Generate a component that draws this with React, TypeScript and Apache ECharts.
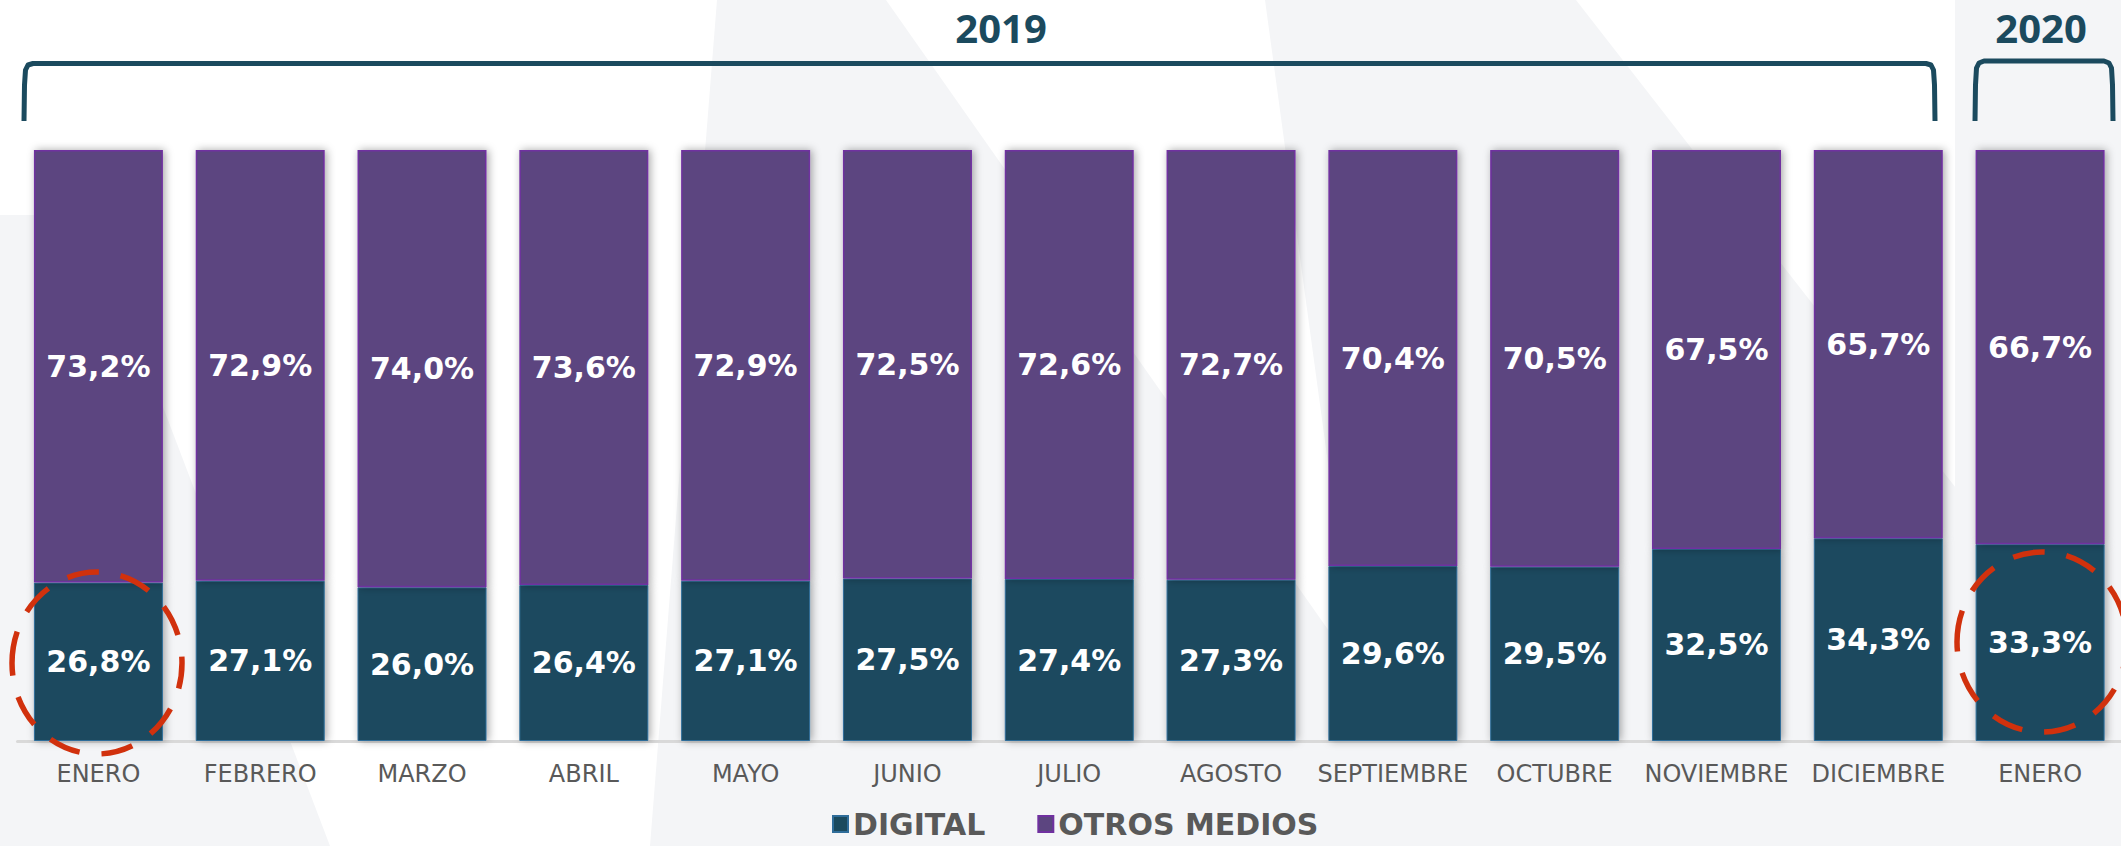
import React, { useEffect, useRef } from "react";
import * as echarts from "echarts";

const categories = [
  "ENERO", "FEBRERO", "MARZO", "ABRIL", "MAYO", "JUNIO", "JULIO",
  "AGOSTO", "SEPTIEMBRE", "OCTUBRE", "NOVIEMBRE", "DICIEMBRE", "ENERO",
];
const digital = [26.8, 27.1, 26.0, 26.4, 27.1, 27.5, 27.4, 27.3, 29.6, 29.5, 32.5, 34.3, 33.3];
const otros = [73.2, 72.9, 74.0, 73.6, 72.9, 72.5, 72.6, 72.7, 70.4, 70.5, 67.5, 65.7, 66.7];
const seriesNames = ["DIGITAL", "OTROS MEDIOS"];
const yearLabels = ["2019", "2020"];

const fmt = (p: any) => Number(p.value).toFixed(1).replace(".", ",") + "%";

export default function App() {
  const ref = useRef<HTMLDivElement>(null);
  useEffect(() => {
    document.body.style.margin = "0";
    const chart = echarts.init(ref.current!, null, { renderer: "svg" });
    const bg = "#f4f5f7";
    const teal = "#1b4a5e";
    const red = "#d1310d";
    const labelStyle = {
      show: true,
      position: "inside",
      formatter: fmt,
      color: "#ffffff",
      fontSize: 30,
      fontWeight: "bold",
      fontFamily: "DejaVu Sans",
    };
    const shadow = {
      shadowColor: "rgba(0,0,0,0.35)",
      shadowBlur: 8,
      shadowOffsetX: 2,
      shadowOffsetY: 0,
    };
    chart.setOption({
      animation: false,
      backgroundColor: "#ffffff",
      grid: { left: 17.5, width: 2106, top: 150, height: 591 },
      xAxis: {
        type: "category",
        data: categories,
        axisLine: { lineStyle: { color: "#d9d9d9", width: 3 } },
        axisTick: { show: false },
        axisLabel: {
          color: "#595959",
          fontSize: 24,
          fontFamily: "DejaVu Sans",
          margin: 21,
          interval: 0,
        },
      },
      yAxis: { type: "value", min: 0, max: 100, show: false },
      legend: {
        data: seriesNames,
        left: 832,
        top: 808,
        padding: 0,
        icon: "rect",
        itemWidth: 15,
        itemHeight: 16,
        itemGap: 52,
        textStyle: {
          fontSize: 30,
          lineHeight: 32,
          fontWeight: "bold",
          color: "#595959",
          fontFamily: "DejaVu Sans",
        },
      },
      series: [
        {
          name: seriesNames[0],
          type: "bar",
          stack: "total",
          barWidth: 129,
          data: digital,
          itemStyle: { color: teal, borderColor: "#2f6d9a", borderWidth: 1, ...shadow },
          label: labelStyle,
        },
        {
          name: seriesNames[1],
          type: "bar",
          stack: "total",
          barWidth: 129,
          data: otros,
          itemStyle: { color: "#5c4580", borderColor: "#7030a0", borderWidth: 1.5, ...shadow },
          label: labelStyle,
        },
      ],
      graphic: [
        { type: "polygon", z: -10, silent: true, shape: { points: [[717, 0], [886, 0], [1480, 846], [650, 846]] }, style: { fill: bg } },
        { type: "polygon", z: -10, silent: true, shape: { points: [[1265, 0], [1576, 0], [2121, 700], [2121, 846], [1380, 846]] }, style: { fill: bg } },
        { type: "polygon", z: -10, silent: true, shape: { points: [[1955, 0], [2121, 0], [2121, 846], [1955, 846]] }, style: { fill: bg } },
        { type: "polygon", z: -10, silent: true, shape: { points: [[0, 215], [90, 215], [330, 846], [0, 846]] }, style: { fill: bg } },
        {
          type: "polyline",
          z: 100,
          shape: {
            points: [[24, 121], [24.5, 85], [25.5, 70], [28, 65], [33, 63.5], [1926, 63.5], [1931, 65], [1933.5, 70], [1934.5, 85], [1935, 121]],
          },
          style: { stroke: teal, lineWidth: 5, fill: "none", lineJoin: "round" },
        },
        {
          type: "polyline",
          z: 100,
          shape: {
            points: [[1975, 121], [1975.5, 85], [1976.5, 68], [1979, 63], [1984, 61], [2104, 61], [2109, 63], [2111.5, 68], [2112.5, 85], [2113, 121]],
          },
          style: { stroke: teal, lineWidth: 5, fill: "none", lineJoin: "round" },
        },
        {
          type: "text",
          z: 100,
          x: 1001,
          y: 27,
          style: {
            text: yearLabels[0],
            fill: teal,
            font: "bold 40px 'Open Sans'",
            textAlign: "center",
            textVerticalAlign: "middle",
          },
        },
        {
          type: "text",
          z: 100,
          x: 2041,
          y: 27,
          style: {
            text: yearLabels[1],
            fill: teal,
            font: "bold 40px 'Open Sans'",
            textAlign: "center",
            textVerticalAlign: "middle",
          },
        },
        {
          type: "ellipse",
          z: 100,
          shape: { cx: 97, cy: 663, rx: 85, ry: 91 },
          style: { fill: "none", stroke: red, lineWidth: 5.5, lineDash: [32, 22] },
        },
        {
          type: "ellipse",
          z: 100,
          shape: { cx: 2042, cy: 642, rx: 85, ry: 90 },
          style: { fill: "none", stroke: red, lineWidth: 5.5, lineDash: [32, 22] },
        },
      ],
    });
    return () => chart.dispose();
  }, []);
  return (
    <div
      ref={ref}
      style={{ position: "fixed", left: 0, top: 0, width: 2121, height: 846 }}
    />
  );
}
